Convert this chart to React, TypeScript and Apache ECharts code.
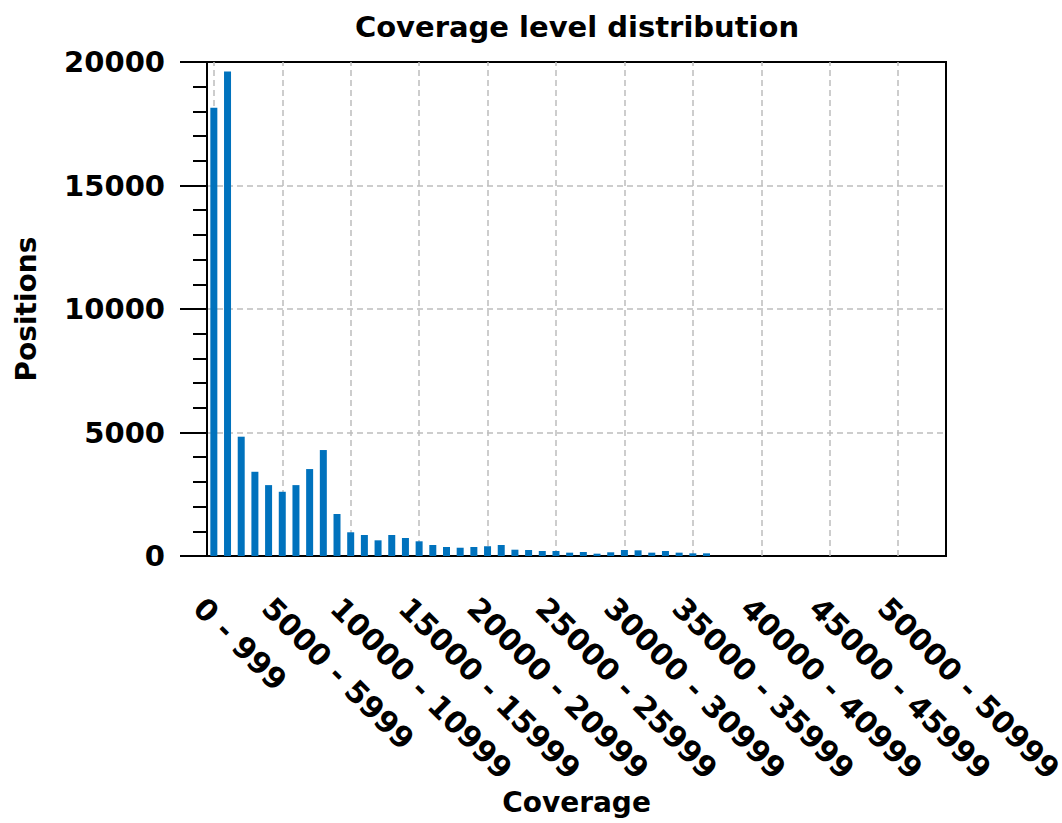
import React, { useEffect, useRef } from "react";
import * as echarts from "echarts";

const categories = [
  "0 - 999", "1000 - 1999", "2000 - 2999", "3000 - 3999", "4000 - 4999",
  "5000 - 5999", "6000 - 6999", "7000 - 7999", "8000 - 8999", "9000 - 9999",
  "10000 - 10999", "11000 - 11999", "12000 - 12999", "13000 - 13999", "14000 - 14999",
  "15000 - 15999", "16000 - 16999", "17000 - 17999", "18000 - 18999", "19000 - 19999",
  "20000 - 20999", "21000 - 21999", "22000 - 22999", "23000 - 23999", "24000 - 24999",
  "25000 - 25999", "26000 - 26999", "27000 - 27999", "28000 - 28999", "29000 - 29999",
  "30000 - 30999", "31000 - 31999", "32000 - 32999", "33000 - 33999", "34000 - 34999",
  "35000 - 35999", "36000 - 36999", "37000 - 37999", "38000 - 38999", "39000 - 39999",
  "40000 - 40999", "41000 - 41999", "42000 - 42999", "43000 - 43999", "44000 - 44999",
  "45000 - 45999", "46000 - 46999", "47000 - 47999", "48000 - 48999", "49000 - 49999",
  "50000 - 50999", "51000 - 51999", "52000 - 52999", "53000 - 53999",
];

const positions = [
  18150, 19620, 4830, 3410, 2870, 2600, 2870, 3520, 4290, 1700,
  960, 850, 635, 850, 730, 595, 445, 365, 335, 365,
  395, 445, 255, 243, 202, 202, 135, 162, 94, 150,
  243, 230, 135, 202, 135, 108, 108, 0, 0, 0,
  0, 0, 0, 0, 0, 0, 0, 0, 0, 0,
  0, 0, 0, 0,
];

const gridCategories = categories.filter((_, i) => i % 5 === 0);

const FONT = "DejaVu Sans";

export default function App() {
  const ref = useRef<HTMLDivElement>(null);
  useEffect(() => {
    if (!ref.current) return;
    const chart = echarts.init(ref.current, null, { renderer: "svg" });
    const dash = { type: [6, 4] as number[], color: "#bdbdbd", width: 1.5 };
    chart.setOption({
      animation: false,
      backgroundColor: "#ffffff",
      title: {
        text: "Coverage level distribution",
        left: 577,
        textAlign: "center",
        top: 12,
        padding: 0,
        textStyle: { fontFamily: FONT, fontWeight: "bold", fontSize: 29, color: "#000" },
      },
      grid: {
        left: 207,
        top: 62,
        right: 116,
        bottom: 267,
        show: true,
        borderColor: "#000",
        borderWidth: 2,
        containLabel: false,
        outerBoundsMode: "none",
      },
      xAxis: {
        type: "category",
        data: categories,
        boundaryGap: true,
        name: "Coverage",
        nameLocation: "middle",
        nameGap: 232,
        nameMoveOverlap: false,
        nameTextStyle: { fontFamily: FONT, fontWeight: "bold", fontSize: 28, color: "#000" },
        axisLine: { show: true, lineStyle: { color: "#000", width: 2 } },
        axisTick: { show: false },
        splitLine: { show: false },
        axisLabel: {
          interval: 4,
          rotate: -45,
          margin: 32,
          align: "left",
          verticalAlign: "top",
          lineHeight: 42,
          hideOverlap: false,
          fontFamily: FONT,
          fontWeight: "bold",
          fontSize: 30,
          color: "#000",
        },
      },
      yAxis: {
        type: "value",
        min: 0,
        max: 20000,
        interval: 5000,
        name: "Positions",
        nameLocation: "middle",
        nameGap: 167,
        nameMoveOverlap: false,
        nameTextStyle: { fontFamily: FONT, fontWeight: "bold", fontSize: 28, color: "#000" },
        axisLine: { show: true, lineStyle: { color: "#000", width: 2 } },
        axisTick: { show: true, inside: false, length: 27, lineStyle: { color: "#000", width: 2 } },
        minorTick: { show: true, splitNumber: 5, length: 14, lineStyle: { color: "#000", width: 2 } },
        splitLine: { show: true, showMinLine: false, showMaxLine: false, lineStyle: dash },
        axisLabel: {
          margin: 42,
          formatter: (v: number) => String(v),
          fontFamily: FONT,
          fontWeight: "bold",
          fontSize: 29,
          color: "#000",
        },
      },
      series: [
        {
          type: "bar",
          data: positions,
          barWidth: 7,
          z: 2,
          itemStyle: { color: "#0072bd" },
          emphasis: { disabled: true },
          markLine: {
            silent: true,
            z: 1,
            symbol: ["none", "none"],
            label: { show: false },
            lineStyle: dash,
            emphasis: { disabled: true },
            data: gridCategories.map((c) => ({ xAxis: c })),
          },
        },
      ],
    });
    return () => chart.dispose();
  }, []);
  return (
    <div
      ref={ref}
      style={{ position: "fixed", left: 0, top: 0, width: 1062, height: 823 }}
    />
  );
}
